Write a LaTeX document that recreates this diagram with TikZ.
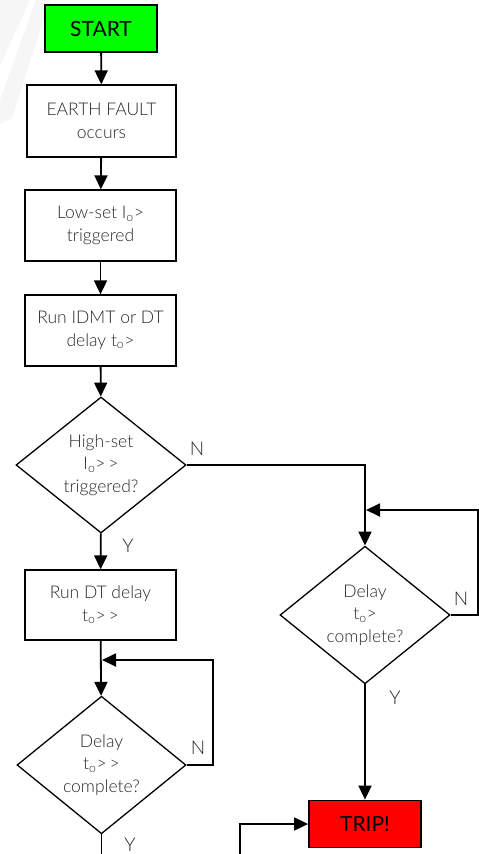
\documentclass[tikz,border=0pt]{standalone}
\usepackage{fontspec}
\setmainfont{Lato}[UprightFont={* Light}]
\newfontfamily\latoreg{Lato}
\usetikzlibrary{shapes.geometric,arrows.meta}
\definecolor{startgreen}{RGB}{0,255,0}
\definecolor{tripred}{RGB}{255,0,0}
\definecolor{txtgrey}{RGB}{40,40,40}
\tikzset{
  procbox/.style={draw, line width=1.3pt, minimum width=151pt, minimum height=71pt, align=center, inner sep=2pt,
    font=\fontsize{17.5}{22.5}\selectfont, text=txtgrey},
  termbox/.style={draw, line width=1.8pt, minimum width=112pt, minimum height=47pt, inner sep=0pt,
    font=\latoreg\fontsize{21}{24}\selectfont},
  decision/.style={draw, diamond, line width=1.3pt, minimum width=170pt, minimum height=136pt, inner sep=0pt,
    align=center, font=\fontsize{17.5}{22.5}\selectfont, text=txtgrey},
  flow/.style={line width=1.8pt, -{Triangle[length=14pt,width=13pt]}},
  plain/.style={line width=1.8pt},
  yn/.style={font=\fontsize{19}{22}\selectfont, text=txtgrey, inner sep=0pt},
}
\newcommand{\osub}{\textsubscript{o}}
\begin{document}
\begin{tikzpicture}[x=1pt,y=-1pt]
\useasboundingbox (0,0) rectangle (479,854);
% faint watermark
\fill[gray!7] (0,0) -- (30,0) -- (0,66) -- cycle;
\fill[gray!7] (36,0) -- (50,0) -- (12,118) -- (0,124) -- (0,100) -- cycle;
% nodes
\node[termbox, fill=startgreen] (start) at (101,28.5) {START};
\node[procbox, minimum width=149pt, minimum height=72pt] (earth) at (101.5,121) {EARTH FAULT\\occurs};
\node[procbox] (low) at (100.5,225.5) {Low-set I\osub>\\triggered};
\node[procbox] (idmt) at (100.5,330.5) {Run IDMT or DT\\delay t\osub>};
\node[decision] (dec1) at (101,465) {High-set\\I\osub>\,>\\triggered?};
\node[procbox, minimum height=70pt] (rundt) at (100.5,605) {Run DT delay\\t\osub>\,>};
\node[decision] (dec2) at (365,615) {Delay\\t\osub>\\complete?};
\node[decision, minimum width=169pt] (dec3) at (101.5,765) {Delay\\t\osub>\,>\\complete?};
\node[termbox, fill=tripred] (trip) at (365,824) {TRIP!};
% labels
\node[yn] (n1) at (197,449) {N};
\node[yn] (y1) at (128,546) {Y};
\node[yn] (n2) at (461,599) {N};
\node[yn] (y2) at (395,698) {Y};
\node[yn] (n3) at (198,748) {N};
\node[yn] (y3) at (130,845) {Y};
% helper coordinates
\coordinate (l2a) at (478,615);
\coordinate (l2b) at (478,510);
\coordinate (l2c) at (366,510);
\coordinate (l3a) at (213,765);
\coordinate (l3b) at (213,660);
\coordinate (l3c) at (102,660);
\coordinate (bot3) at (101.5,854);
\coordinate (tripin) at (240,854);
% connectors
\draw[flow] (start) -- (earth);
\draw[flow] (earth) -- (low);
\draw[flow] (low) -- (idmt);
\draw[flow] (idmt) -- (dec1);
\draw[flow] (dec1.east) -| (dec2.north);
\draw[flow] (dec2.east) -- (l2a) -- (l2b) -- (l2c);
\draw[flow] (dec1) -- (rundt);
\draw[flow] (rundt) -- (dec3);
\draw[flow] (dec3.east) -- (l3a) -- (l3b) -- (l3c);
\draw[flow] (dec2) -- (trip);
\draw[plain] (dec3.south) -- (bot3);
\draw[flow] (tripin) |- (trip.west);
\end{tikzpicture}
\end{document}
